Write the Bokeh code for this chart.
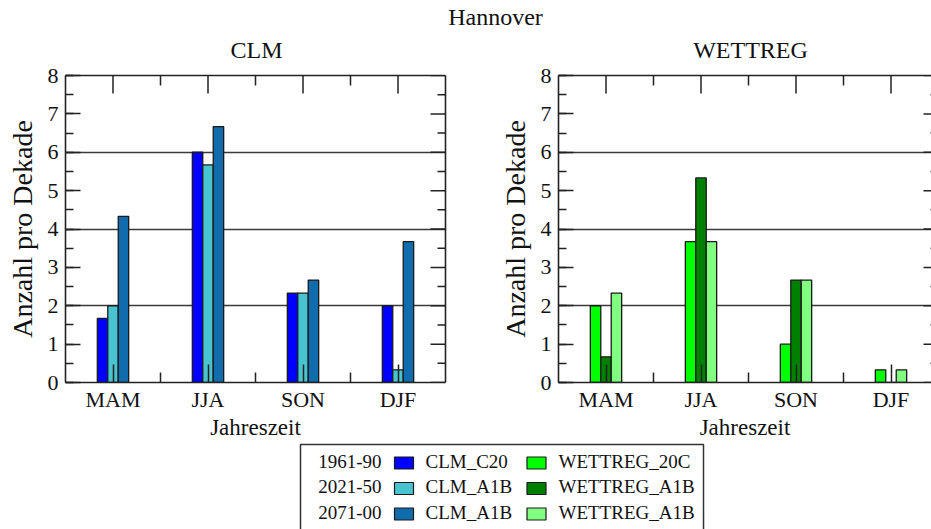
from bokeh.plotting import figure
from bokeh.models import (Range1d, LinearAxis, FixedTicker, SingleIntervalTicker, Label, Grid)
from bokeh.layouts import column, row
from bokeh.embed import file_html
from bokeh.resources import INLINE

# ---------------- data ----------------
seasons = ["MAM", "JJA", "SON", "DJF"]
periods = ["1961-90", "2021-50", "2071-00"]

clm_1961_90 = [1.67, 6.0, 2.33, 2.0]
clm_2021_50 = [2.0, 5.67, 2.33, 0.33]
clm_2071_00 = [4.33, 6.67, 2.67, 3.67]

wettreg_1961_90 = [2.0, 3.67, 1.0, 0.33]
wettreg_2021_50 = [0.67, 5.33, 2.67, 0.0]
wettreg_2071_00 = [2.33, 3.67, 2.67, 0.33]

clm_names = ["CLM_C20", "CLM_A1B", "CLM_A1B"]
wettreg_names = ["WETTREG_20C", "WETTREG_A1B", "WETTREG_A1B"]
clm_colors = ["#0000ff", "#48c4d0", "#106cac"]
wettreg_colors = ["#00ff00", "#008000", "#80ff80"]

y_min, y_max = 0, 8
grid_values = [2, 4, 6]

FONT = "Liberation Serif"
TXT = "#111111"
LINE = "#222222"

BAR_W = 0.22
PX_PER_UNIT_X = 47.5
HEADER_H = 62
PANEL_H = 380
FRAME_H = 307
LEGEND_H = 529 - HEADER_H - PANEL_H
BASELINE_FIX = 0.38  # label baseline correction (fraction of font size)


def style_axis(ax):
    ax.axis_line_color = LINE
    ax.axis_line_width = 1.6
    ax.major_tick_line_color = LINE
    ax.minor_tick_line_color = LINE
    ax.major_tick_line_width = 1.5
    ax.minor_tick_line_width = 1.5
    ax.major_tick_out = 0
    ax.minor_tick_out = 0
    ax.major_label_text_font = FONT
    ax.major_label_text_color = TXT
    ax.axis_label_text_font = FONT
    ax.axis_label_text_color = TXT
    ax.axis_label_text_font_style = "normal"


def text_label(fig, x, y, text, size, align):
    fig.add_layout(Label(x=x, y=y - BASELINE_FIX * size, text=text, text_align=align,
                         text_baseline="alphabetic", text_font=FONT,
                         text_font_size=f"{size}px", text_color=TXT))


def make_panel(series, colors, width, border_left, border_right, frame_w):
    x_end = frame_w / PX_PER_UNIT_X
    px_per_unit_y = FRAME_H / (y_max - y_min)
    p = figure(width=width, height=PANEL_H, x_range=Range1d(0, x_end), y_range=Range1d(y_min, y_max),
               output_backend="svg", toolbar_location=None, title_location=None,
               x_axis_location=None, y_axis_location=None,
               min_border_left=border_left, min_border_right=border_right,
               min_border_top=75 - HEADER_H, min_border_bottom=0)
    p.grid.visible = False
    p.outline_line_color = None
    p.background_fill_color = "white"
    p.border_fill_color = "white"

    p.add_layout(Grid(dimension=1, ticker=FixedTicker(ticks=grid_values),
                      grid_line_color="#3a3a3a", grid_line_width=1.6))

    centers = [2 * i + 1 for i in range(len(seasons))]
    boundaries = [2 * i + 2 for i in range(len(seasons) - 1)]

    for k, (vals, col) in enumerate(zip(series, colors)):
        xs = [c + (k - 1) * BAR_W for c in centers]
        p.vbar(x=xs, top=vals, bottom=0, width=BAR_W, fill_color=col,
               line_color="#1a1a1a", line_width=1.3)

    # bottom axis with season labels
    xb = LinearAxis(ticker=FixedTicker(ticks=centers, minor_ticks=boundaries))
    xb.major_label_overrides = {c: s for c, s in zip(centers, seasons)}
    xb.axis_label = "Jahreszeit"
    style_axis(xb)
    xb.major_tick_in = 18
    xb.minor_tick_in = 10
    xb.major_label_text_font_size = "22px"
    xb.major_label_standoff = 4
    xb.axis_label_text_font_size = "23px"
    xb.axis_label_standoff = 0

    # left axis
    yl = LinearAxis(ticker=SingleIntervalTicker(interval=1, num_minor_ticks=2))
    yl.axis_label = "Anzahl pro Dekade"
    style_axis(yl)
    yl.major_tick_in = 15
    yl.minor_tick_in = 8
    yl.major_label_text_font_size = "22px"
    yl.major_label_standoff = 7
    yl.axis_label_text_font_size = "28px"
    yl.axis_label_standoff = 7

    # top and right frame lines (no ticks of their own)
    xt = LinearAxis(ticker=FixedTicker(ticks=[], minor_ticks=[]))
    style_axis(xt)
    p.add_layout(xb, "below")
    p.add_layout(yl, "left")
    p.add_layout(xt, "above")
    if border_right > 0:
        yr = LinearAxis(ticker=FixedTicker(ticks=[], minor_ticks=[]))
        style_axis(yr)
        p.add_layout(yr, "right")

    # inward tick marks on top and right edges
    top_major = 18 / px_per_unit_y
    top_minor = 10 / px_per_unit_y
    p.segment(x0=centers, y0=[y_max] * len(centers), x1=centers, y1=[y_max - top_major] * len(centers),
              line_color=LINE, line_width=1.5)
    p.segment(x0=boundaries, y0=[y_max] * len(boundaries), x1=boundaries,
              y1=[y_max - top_minor] * len(boundaries), line_color=LINE, line_width=1.5)
    right_x = 8.0
    yr_major = list(range(y_min, y_max + 1))
    yr_minor = [v + 0.5 for v in range(y_min, y_max)]
    p.segment(x0=[right_x] * len(yr_major), y0=yr_major, x1=[right_x - 15 / PX_PER_UNIT_X] * len(yr_major),
              y1=yr_major, line_color=LINE, line_width=1.5)
    p.segment(x0=[right_x] * len(yr_minor), y0=yr_minor, x1=[right_x - 8 / PX_PER_UNIT_X] * len(yr_minor),
              y1=yr_minor, line_color=LINE, line_width=1.5)
    return p


p1 = make_panel([clm_1961_90, clm_2021_50, clm_2071_00], clm_colors,
                width=490, border_left=65, border_right=45, frame_w=380)
p2 = make_panel([wettreg_1961_90, wettreg_2021_50, wettreg_2071_00], wettreg_colors,
                width=441, border_left=68, border_right=0, frame_w=373)

# header with overall and panel titles
hdr = figure(width=931, height=HEADER_H, x_range=Range1d(0, 931), y_range=Range1d(HEADER_H, 0),
             output_backend="svg", toolbar_location=None, title_location=None,
             x_axis_location=None, y_axis_location=None, min_border=0)
hdr.grid.visible = False
hdr.outline_line_color = None
text_label(hdr, 495, 26, "Hannover", 24, "center")
text_label(hdr, 256, 59, "CLM", 24, "center")
text_label(hdr, 750, 59, "WETTREG", 24, "center")

# legend
leg = figure(width=931, height=LEGEND_H, x_range=Range1d(0, 931), y_range=Range1d(LEGEND_H, 0),
             output_backend="svg", toolbar_location=None, title_location=None,
             x_axis_location=None, y_axis_location=None, min_border=0)
leg.grid.visible = False
leg.outline_line_color = None
box_l, box_r, box_t = 300, 703, 2
leg.quad(left=[box_l], right=[box_r], top=[box_t], bottom=[LEGEND_H + 30], fill_color=None,
         line_color="#333333", line_width=1.5)
row0, row_step = 26, 25.5
for r in range(len(periods)):
    base = row0 + r * row_step
    text_label(leg, 381, base, periods[r], 19, "right")
    leg.rect(x=[403.5], y=[base - 5.5], width=19, height=12, fill_color=clm_colors[r],
             line_color="#1a1a1a", line_width=1.2)
    text_label(leg, 425, base, clm_names[r], 19, "left")
    leg.rect(x=[536], y=[base - 5.5], width=19, height=12, fill_color=wettreg_colors[r],
             line_color="#1a1a1a", line_width=1.2)
    text_label(leg, 558, base, wettreg_names[r], 19, "left")

layout = column(hdr, row(p1, p2), leg)
open("out.html", "w").write(file_html(layout, INLINE))
